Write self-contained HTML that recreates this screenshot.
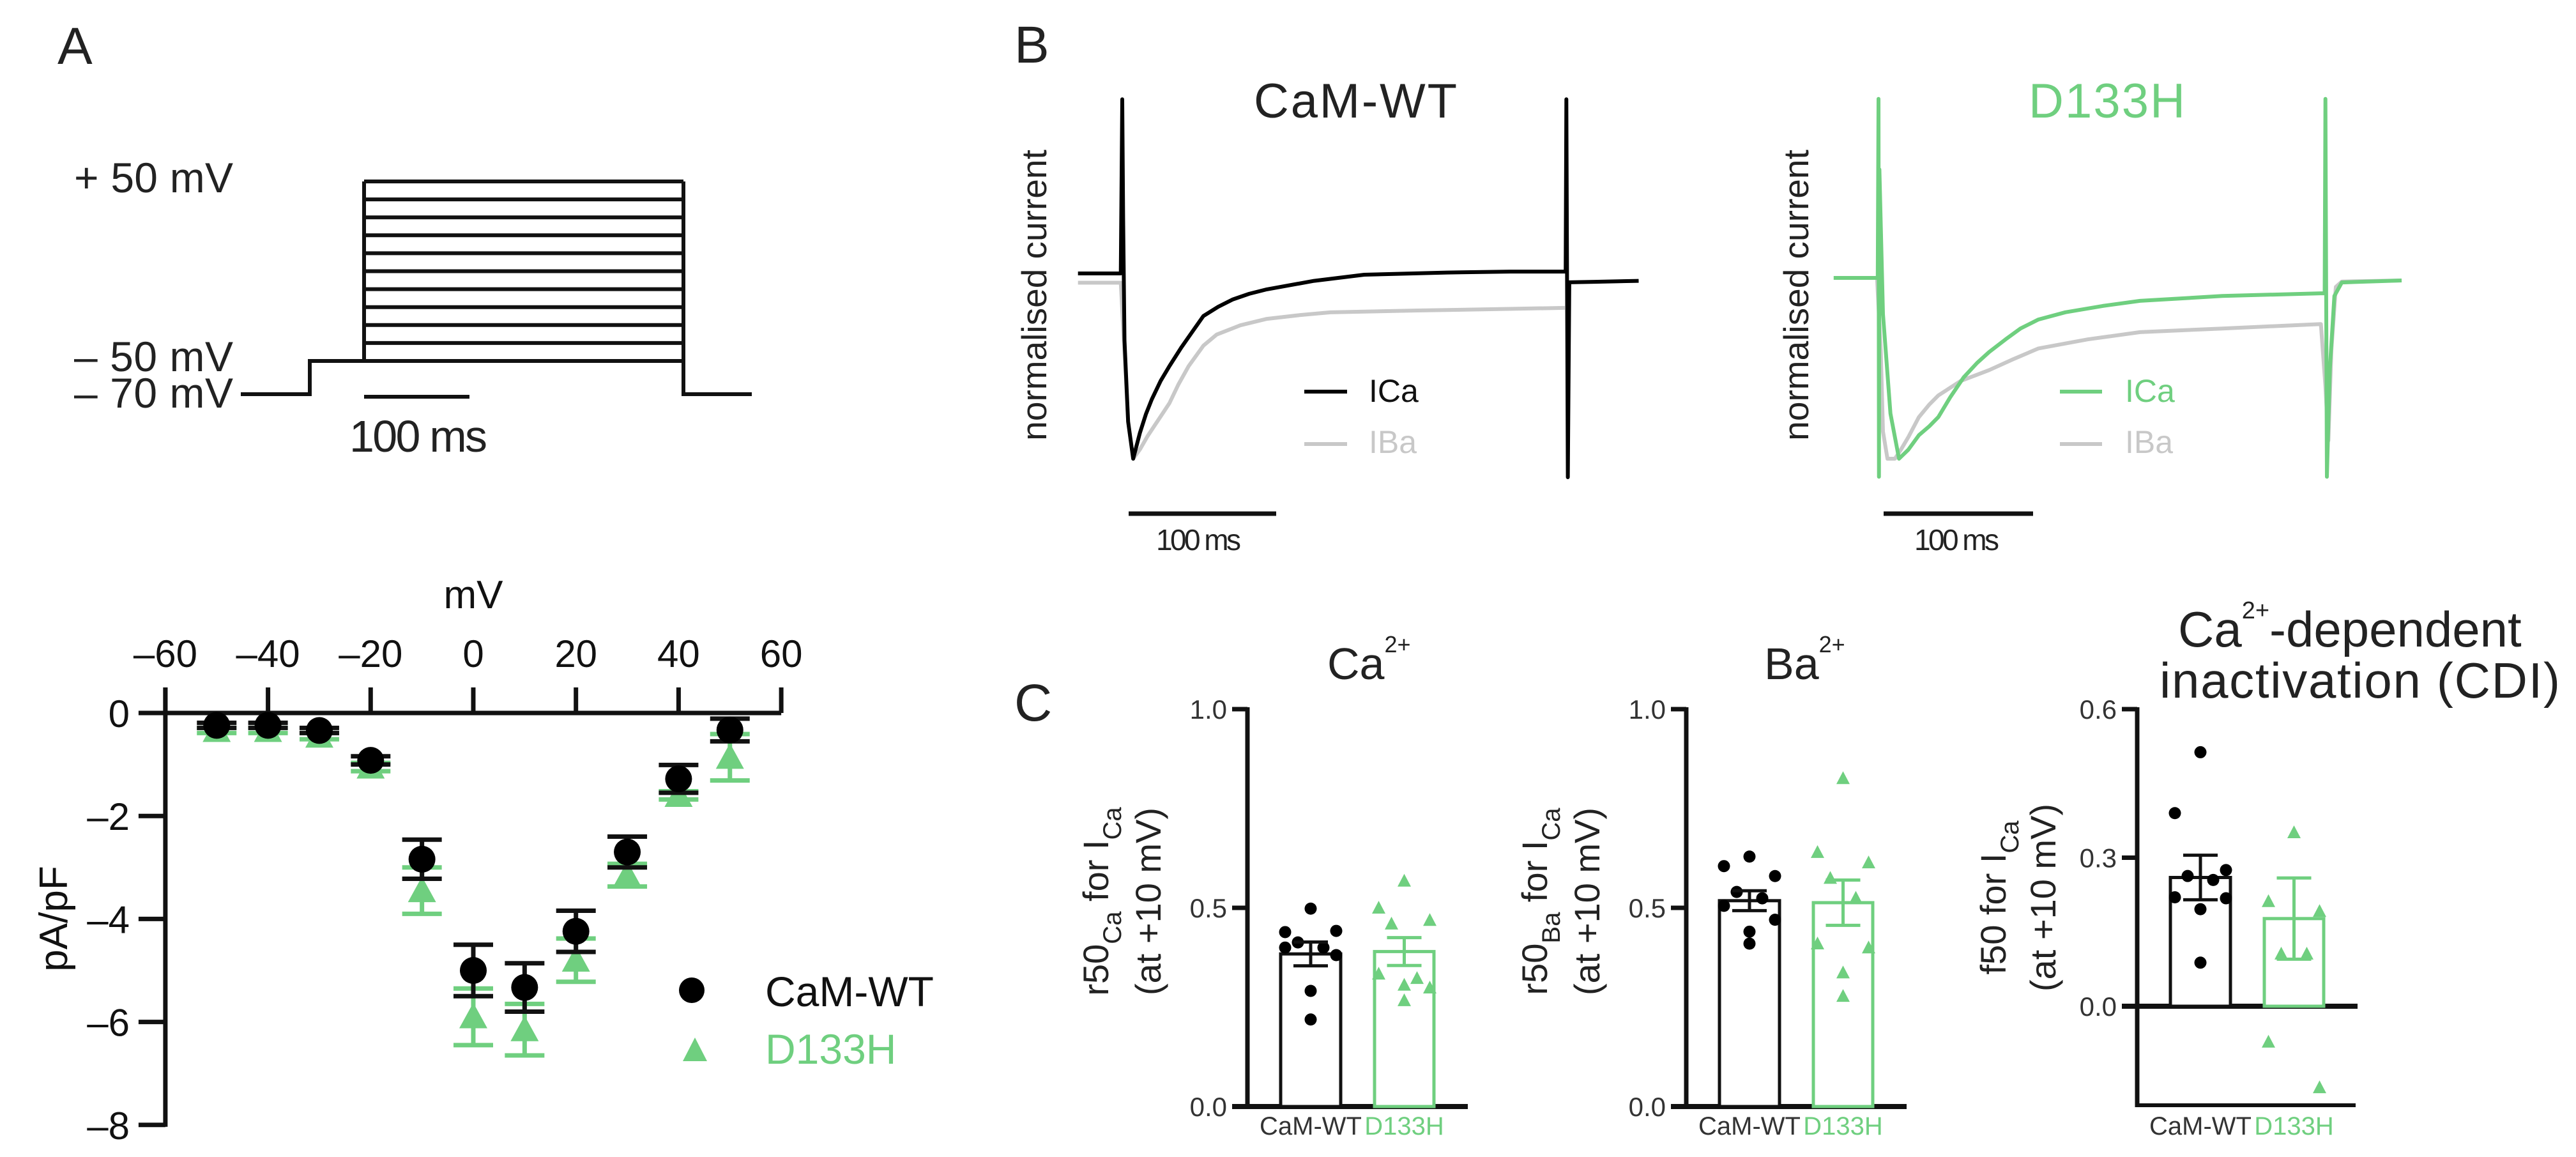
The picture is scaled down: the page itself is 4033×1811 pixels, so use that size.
<!DOCTYPE html>
<html><head><meta charset="utf-8"><style>
html,body{margin:0;padding:0;background:#fff;}
svg{display:block;font-family:"Liberation Sans",Arial,sans-serif;}
</style></head><body>
<svg id="fig" width="4033" height="1811" viewBox="0 0 4033 1811" xmlns="http://www.w3.org/2000/svg">
<rect width="4033" height="1811" fill="#fff"/>
<text x="90" y="100" font-size="82" fill="#222">A</text>
<text x="1588" y="98" font-size="82" fill="#222">B</text>
<text x="1588" y="1128" font-size="82" fill="#222">C</text>

<g fill="none" stroke="#111" stroke-width="6">
<g id="steps"></g>
<polyline points="377,617 485,617 485,565 570,565"/>
<line x1="570" y1="284" x2="570" y2="565"/>
<polyline points="1070,284 1070,617 1177,617"/>
<line x1="570" y1="621" x2="735" y2="621"/>
</g>
<text x="116" y="301" font-size="66" textLength="249" fill="#222">+ 50 mV</text>
<text x="116" y="581" font-size="66" textLength="249" fill="#222">– 50 mV</text>
<text x="116" y="638" font-size="66" textLength="249" fill="#222">– 70 mV</text>
<text x="547" y="707" font-size="70" textLength="216" fill="#222">100 ms</text>

<g id="iv"></g>
<text x="741" y="952" font-size="62" text-anchor="middle" fill="#111">mV</text>
<text transform="translate(105,1438) rotate(-90)" font-size="62" text-anchor="middle" fill="#111">pA/pF</text>
<circle cx="1083" cy="1550" r="20" fill="#000"/>
<text x="1198" y="1575" font-size="66" fill="#111">CaM-WT</text>
<polygon points="1088,1624 1069,1661 1107,1661" fill="#6fcf7f"/>
<text x="1198" y="1665" font-size="66" fill="#6fcf7f">D133H</text>

<g id="traces"></g>
<text x="1963" y="184" font-size="76" textLength="318" fill="#222">CaM-WT</text>
<text x="3176" y="184" font-size="76" textLength="245" fill="#6fcf7f">D133H</text>
<text transform="translate(1638,462) rotate(-90)" font-size="55" text-anchor="middle" fill="#222">normalised current</text>
<text transform="translate(2831,462) rotate(-90)" font-size="55" text-anchor="middle" fill="#222">normalised current</text>
<line x1="1767" y1="804" x2="1998" y2="804" stroke="#111" stroke-width="7"/>
<text x="1810" y="861" font-size="46" textLength="133" fill="#222">100 ms</text>
<line x1="2949" y1="804" x2="3183" y2="804" stroke="#111" stroke-width="7"/>
<text x="2997" y="861" font-size="46" textLength="133" fill="#222">100 ms</text>
<line x1="2042" y1="613" x2="2109" y2="613" stroke="#000" stroke-width="6"/>
<text x="2143" y="629" font-size="50" fill="#111">ICa</text>
<line x1="2042" y1="695" x2="2109" y2="695" stroke="#c8c8c8" stroke-width="6"/>
<text x="2143" y="709" font-size="50" fill="#c8c8c8">IBa</text>
<line x1="3225" y1="613" x2="3291" y2="613" stroke="#6fcf7f" stroke-width="6"/>
<text x="3327" y="629" font-size="50" fill="#6fcf7f">ICa</text>
<line x1="3225" y1="695" x2="3291" y2="695" stroke="#c8c8c8" stroke-width="6"/>
<text x="3327" y="709" font-size="50" fill="#c8c8c8">IBa</text>

<g id="bars"></g>
<text x="2078" y="1063" font-size="70" fill="#222">Ca<tspan dy="-42" font-size="36">2+</tspan></text>
<text x="2762" y="1063" font-size="70" fill="#222">Ba<tspan dy="-42" font-size="36">2+</tspan></text>
<text x="3410" y="1012" font-size="78" fill="#222">Ca<tspan dy="-44" font-size="38">2+</tspan><tspan dy="44">-dependent</tspan></text>
<text x="3381" y="1092" font-size="78" textLength="627" fill="#222">inactivation (CDI)</text>
<text transform="translate(1735,1411) rotate(-90)" font-size="56" text-anchor="middle" fill="#222">r50<tspan dy="20" font-size="40">Ca</tspan><tspan dy="-20"> for I</tspan><tspan dy="20" font-size="40">Ca</tspan></text>
<text transform="translate(1817,1411) rotate(-90)" font-size="56" text-anchor="middle" fill="#222">(at +10 mV)</text>
<text transform="translate(2422,1411) rotate(-90)" font-size="56" text-anchor="middle" fill="#222">r50<tspan dy="20" font-size="40">Ba</tspan><tspan dy="-20"> for I</tspan><tspan dy="20" font-size="40">Ca</tspan></text>
<text transform="translate(2504,1411) rotate(-90)" font-size="56" text-anchor="middle" fill="#222">(at +10 mV)</text>
<text transform="translate(3140,1405) rotate(-90)" font-size="56" text-anchor="middle" fill="#222">f50 for I<tspan dy="20" font-size="40">Ca</tspan></text>
<text transform="translate(3218,1405) rotate(-90)" font-size="56" text-anchor="middle" fill="#222">(at +10 mV)</text>
</svg>
<script>
var NS = "http://www.w3.org/2000/svg";
var GREEN = "#6fcf7f", GRAY = "#c8c8c8";

var ivVoltages = [-50,-40,-30,-20,-10,0,10,20,30,40,50];
var ivWtMean = [-0.24,-0.24,-0.34,-0.92,-2.84,-5.0,-5.33,-4.24,-2.7,-1.28,-0.33];
var ivWtSem = [0.05,0.05,0.05,0.08,0.38,0.5,0.47,0.4,0.3,0.27,0.22];
var ivMutMean = [-0.34,-0.34,-0.45,-1.05,-3.45,-5.9,-6.15,-4.8,-3.15,-1.6,-0.86];
var ivMutSem = [0.05,0.05,0.06,0.08,0.45,0.55,0.5,0.42,0.22,0.08,0.45];
var ivXTicks = [-60,-40,-20,0,20,40,60];
var ivXTickLabels = ["–60","–40","–20","0","20","40","60"];
var ivYTicks = [0,-2,-4,-6,-8];
var ivYTickLabels = ["0","–2","–4","–6","–8"];

var protocolSteps = [-50,-40,-30,-20,-10,0,10,20,30,40,50];

var wtTime = [-30,-1,0,0.6,1.5,4,7.4,12,16,20,26,32,40,47,55,65,75,86,98,130,164,220,263,300.5,301,302,303,320,350];
var wtICa = [0,0,0.94,0.3,-0.36,-0.8,-1.0,-0.86,-0.76,-0.68,-0.58,-0.5,-0.4,-0.32,-0.23,-0.18,-0.14,-0.11,-0.086,-0.04,-0.007,0.005,0.01,0.01,0.94,-1.1,-0.048,-0.045,-0.04];
var wtBaTime = [-30,-1,4,7.4,12,17,22,27,32,38,45,55,64,80,98,120,141,200,250,300];
var wtIBa = [-0.05,-0.05,-0.8,-1.0,-0.95,-0.88,-0.82,-0.76,-0.7,-0.6,-0.5,-0.39,-0.33,-0.28,-0.245,-0.225,-0.21,-0.2,-0.193,-0.186];
var mutTime = [-30,-0.5,0,0.3,0.6,3,8,13.7,20,27,34,40,48,57,66,74,85,95,107,125,150,175,230,296,298.5,299,300,301,302,305,310,350];
var mutICa = [0,0,0.99,-1.1,0.6,-0.2,-0.75,-1.0,-0.95,-0.87,-0.82,-0.77,-0.66,-0.55,-0.47,-0.41,-0.34,-0.28,-0.23,-0.19,-0.155,-0.127,-0.1,-0.085,-0.085,0.99,-1.1,-0.8,-0.5,-0.1,-0.025,-0.014];
var mutBaTime = [-1,1.5,3,6,11,15,20,27,34,40,55,74,90,107,140,175,230,296,299,301,303,306,310,350];
var mutIBa = [0,-0.4,-0.85,-1.0,-1.0,-0.95,-0.88,-0.77,-0.7,-0.65,-0.57,-0.51,-0.45,-0.39,-0.34,-0.30,-0.28,-0.255,-0.6,-0.9,-0.4,-0.05,-0.02,-0.014];

var barGroups = ["CaM-WT","D133H"];
var caMeans = [0.384,0.39];
var caSem = [0.03,0.035];
var caWtPoints = [0.498,0.439,0.442,0.413,0.400,0.400,0.381,0.291,0.219];
var caMutPoints = [0.568,0.500,0.469,0.460,0.323,0.334,0.299,0.306,0.267];
var baMeans = [0.518,0.513];
var baSem = [0.025,0.057];
var baWtPoints = [0.629,0.605,0.58,0.54,0.524,0.505,0.47,0.44,0.41];
var baMutPoints = [0.826,0.64,0.614,0.575,0.525,0.41,0.40,0.337,0.278];
var cdiMeans = [0.26,0.177];
var cdiSem = [0.045,0.082];
var cdiWtPoints = [0.513,0.39,0.275,0.263,0.255,0.22,0.218,0.196,0.088];
var cdiMutPoints = [0.351,0.212,0.192,0.106,0.106,-0.072,-0.164];
var ratioTicks = [0,0.5,1.0];
var ratioTickLabels = ["0.0","0.5","1.0"];
var cdiTicks = [0,0.3,0.6];
var cdiTickLabels = ["0.0","0.3","0.6"];

function mk(parent, tag, attrs) {
  var el = document.createElementNS(NS, tag);
  for (var k in attrs) el.setAttribute(k, attrs[k]);
  parent.appendChild(el);
  return el;
}
function tri(cx, cy, w, h) {
  return (cx)+","+(cy-h*0.55)+" "+(cx-w/2)+","+(cy+h*0.45)+" "+(cx+w/2)+","+(cy+h*0.45);
}

var stepG = document.getElementById("steps");
function protoY(mv) { return 565 - (mv + 50) * 2.81; }
protocolSteps.forEach(function (v) {
  var el = mk(stepG, "line", {x1: 570, x2: 1070, y1: protoY(v), y2: protoY(v)});
  
  
});

var iv = document.getElementById("iv");
function ivX(v) { return 741 + v * 8.035; }
function ivY(p) { return 1116 - p * 80.6; }
var el;
el = mk(iv, "line", {x1: ivX(-60), y1: ivY(0), x2: ivX(60), y2: ivY(0), stroke: "#111", "stroke-width": 7});


el = mk(iv, "line", {x1: ivX(-60), y1: ivY(0) - 40, x2: ivX(-60), y2: ivY(-8) + 3, stroke: "#111", "stroke-width": 7});


ivXTicks.forEach(function (t, i) {
  var tk = mk(iv, "line", {x1: ivX(t), x2: ivX(t), y1: ivY(0), y2: ivY(0) - 40, stroke: "#111", "stroke-width": 7});
  
  
  var lb = mk(iv, "text", {x: ivX(t), y: 1044, "font-size": 60, "text-anchor": "middle", fill: "#111"});
  lb.textContent = ivXTickLabels[i];
  
  
});
ivYTicks.forEach(function (t, i) {
  var tk = mk(iv, "line", {x1: ivX(-60) - 42, x2: ivX(-60), y1: ivY(t), y2: ivY(t), stroke: "#111", "stroke-width": 7});
  
  
  var lb = mk(iv, "text", {x: 203, y: ivY(t) + 22, "font-size": 60, "text-anchor": "end", fill: "#111"});
  lb.textContent = ivYTickLabels[i];
  
  
});
function errBar(g, x, y1, y2, w, color, sw) {
  return mk(g, "path", {d: "M"+x+","+y1+"V"+y2+"M"+(x-w/2)+","+y1+"H"+(x+w/2)+"M"+(x-w/2)+","+y2+"H"+(x+w/2), stroke: color, "stroke-width": sw, fill: "none"});
}
ivVoltages.forEach(function (v, i) {
  var x = ivX(v);
  var e = errBar(iv, x, ivY(ivMutMean[i] + ivMutSem[i]), ivY(ivMutMean[i] - ivMutSem[i]), 62, GREEN, 7);
  
  
  var m = mk(iv, "polygon", {points: tri(x, ivY(ivMutMean[i]), 44, 40), fill: GREEN});
  
  
});
ivVoltages.forEach(function (v, i) {
  var x = ivX(v);
  var e = errBar(iv, x, ivY(ivWtMean[i] + ivWtSem[i]), ivY(ivWtMean[i] - ivWtSem[i]), 62, "#111", 7);
  
  
  var m = mk(iv, "circle", {cx: x, cy: ivY(ivWtMean[i]), r: 21, fill: "#000"});
  
  
});

var tg = document.getElementById("traces");
function tracePath(times, vals, x0, pxPerMs, y0, pxPerUnit) {
  return times.map(function (t, i) {
    return (x0 + t * pxPerMs).toFixed(1) + "," + (y0 - vals[i] * pxPerUnit).toFixed(1);
  }).join(" ");
}
el = mk(tg, "polyline", {points: tracePath(wtBaTime, wtIBa, 1757, 2.31, 428, 290), fill: "none", stroke: GRAY, "stroke-width": 6, "stroke-linejoin": "round"});


el = mk(tg, "polyline", {points: tracePath(wtTime, wtICa, 1757, 2.31, 428, 290), fill: "none", stroke: "#000", "stroke-width": 6, "stroke-linejoin": "round"});


el = mk(tg, "polyline", {points: tracePath(mutBaTime, mutIBa, 2941, 2.34, 435, 283), fill: "none", stroke: GRAY, "stroke-width": 6, "stroke-linejoin": "round"});


el = mk(tg, "polyline", {points: tracePath(mutTime, mutICa, 2941, 2.34, 435, 283), fill: "none", stroke: GREEN, "stroke-width": 6, "stroke-linejoin": "round"});



var bg = document.getElementById("bars");
function panel(name, axisX, y0, pxPerUnit, yMin, yMax, ticks, tickLabels, means, sems, wtPts, mutPts) {
  var g = mk(bg, "g", {});
  
  
  function Y(v) { return y0 - v * pxPerUnit; }
  var ax = mk(g, "line", {x1: axisX, x2: axisX, y1: Y(yMax) - 3, y2: Y(yMin) + 3, stroke: "#111", "stroke-width": 7});
  
  
  var xa = mk(g, "line", {x1: axisX - 24, x2: axisX + 345, y1: Y(0), y2: Y(0), stroke: "#111", "stroke-width": 8});
  
  
  if (yMin < 0) {
    var bl = mk(g, "line", {x1: axisX, x2: axisX + 342, y1: Y(yMin), y2: Y(yMin), stroke: "#111", "stroke-width": 6});
    
    
  }
  ticks.forEach(function (t, i) {
    var tk = mk(g, "line", {x1: axisX - 24, x2: axisX, y1: Y(t), y2: Y(t), stroke: "#111", "stroke-width": 7});
    
    
    var lb = mk(g, "text", {x: axisX - 32, y: Y(t) + 15, "font-size": 42, "text-anchor": "end", fill: "#333"});
    lb.textContent = tickLabels[i];
    
    
  });
  var offs = [[52, 146], [199, 292]];
  var colors = ["#111", GREEN];
  [0, 1].forEach(function (k) {
    var x1 = axisX + offs[k][0], x2 = axisX + offs[k][1], cx = (x1 + x2) / 2;
    var b = mk(g, "rect", {x: x1, y: Math.min(Y(means[k]), Y(0)), width: x2 - x1, height: Math.abs(Y(0) - Y(means[k])), fill: "#fff", stroke: colors[k], "stroke-width": 5});
    
    
    var pts = k === 0 ? wtPts : mutPts;
    var spread = [0, -40, 40, -20, 20, -40, 40, 0, 0];
    pts.forEach(function (v, j) {
      var px = cx + spread[j % spread.length];
      var p;
      if (k === 0) {
        p = mk(g, "circle", {cx: px, cy: Y(v), r: 9.5, fill: "#000"});
      } else {
        p = mk(g, "polygon", {points: tri(px, Y(v), 21, 20), fill: GREEN});
      }
      
      
    });
    var e = errBar(g, cx, Y(means[k] + sems[k]), Y(means[k] - sems[k]), 54, colors[k], 5);
    
    
    var lb = mk(g, "text", {x: cx, y: 1776, "font-size": 40, "text-anchor": "middle", fill: k === 0 ? "#333" : GREEN});
    lb.textContent = barGroups[k];
    
    
  });
}
panel("ca", 1953, 1732, 622, 0, 1.0, ratioTicks, ratioTickLabels, caMeans, caSem, caWtPoints, caMutPoints);
panel("ba", 2640, 1732, 622, 0, 1.0, ratioTicks, ratioTickLabels, baMeans, baSem, baWtPoints, baMutPoints);
panel("cdi", 3346, 1575, 775, -0.2, 0.6, cdiTicks, cdiTickLabels, cdiMeans, cdiSem, cdiWtPoints, cdiMutPoints);
</script>
</body></html>
